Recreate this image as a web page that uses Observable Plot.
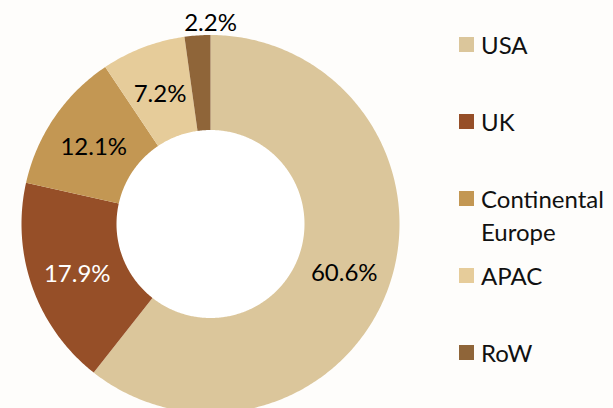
<!DOCTYPE html>
<html>
<head>
<meta charset="utf-8">
<script src="https://cdn.jsdelivr.net/npm/d3@7"></script>
<script src="https://cdn.jsdelivr.net/npm/@observablehq/plot@0.6"></script>
<style>
  html, body { margin: 0; padding: 0; width: 613px; height: 408px; overflow: hidden; background: #fefdfb; }
  #chart { position: absolute; left: 0; top: 0; }
  #legend { position: absolute; left: 459px; top: 7px; font-family: Lato, sans-serif; font-size: 24px; color: #111; line-height: 33px; }
  .row { height: 77px; display: flex; align-items: flex-start; }
  .sw { width: 15px; height: 15px; margin-top: 30px; margin-right: 7px; flex: none; }
  .lb { margin-top: 21px; width: 130px; }
</style>
</head>
<body>
<div id="chart"></div>
<div id="legend"></div>
<script>
const regions = ["USA", "UK", "Continental Europe", "APAC", "RoW"];
const shares = [60.6, 17.9, 12.1, 7.2, 2.2];
const colors = ["#dbc69b", "#964f28", "#c39753", "#e6cc9a", "#8f6539"];
const labelColors = ["#000000", "#ffffff", "#000000", "#000000", "#000000"];

const holeRatio = 94 / 189;
const total = d3.sum(shares);
const polar = (angle, r) => ({x: r * Math.sin(angle), y: r * Math.cos(angle)});

let running = 0;
const slices = regions.map((region, i) => {
  const a0 = running / total * 2 * Math.PI;
  running += shares[i];
  const a1 = running / total * 2 * Math.PI;
  return {region, share: shares[i], a0, a1, mid: (a0 + a1) / 2, labelColor: labelColors[i]};
});

const ringPoints = slices.flatMap(s => {
  const steps = d3.range(0, 1.0001, 1 / Math.max(4, Math.ceil((s.a1 - s.a0) * 90)));
  const angles = steps.map(t => s.a0 + t * (s.a1 - s.a0));
  return [
    ...angles.map(a => ({region: s.region, ...polar(a, 1)})),
    ...angles.slice().reverse().map(a => ({region: s.region, ...polar(a, holeRatio)}))
  ];
});
const holePoints = d3.range(0, 361).map(d => polar(d * Math.PI / 180, holeRatio));

const inside = slices.filter(s => s.share >= 5).map(s => ({
  text: s.share.toFixed(1) + "%", fill: s.labelColor, ...polar(s.mid, (1 + holeRatio) / 2)
}));
const outside = slices.filter(s => s.share < 5).map(s => ({
  text: s.share.toFixed(1) + "%", fill: s.labelColor, ...polar(0, 1.08)
}));

const textOpts = {x: "x", y: "y", text: "text", fill: "fill", fontFamily: "Lato, sans-serif", fontSize: 24, dy: 3};

const chart = Plot.plot({
  width: 613, height: 408,
  margin: 0,
  style: {background: "transparent"},
  x: {domain: [-1, 1], range: [21, 399], axis: null},
  y: {domain: [-1, 1], range: [412.5, 34.5], axis: null},
  color: {domain: regions, range: colors},
  marks: [
    Plot.line(holePoints, {x: "x", y: "y", fill: "white", stroke: "none", curve: "linear"}),
    Plot.line(ringPoints, {x: "x", y: "y", z: "region", fill: "region", stroke: "none", curve: "linear"}),
    Plot.text(inside, textOpts),
    Plot.text(outside, textOpts)
  ]
});
document.getElementById("chart").append(chart);

const legend = document.getElementById("legend");
regions.forEach((r, i) => {
  const row = document.createElement("div");
  row.className = "row";
  const sw = document.createElement("div");
  sw.className = "sw";
  sw.style.background = colors[i];
  const lb = document.createElement("div");
  lb.className = "lb";
  lb.textContent = r;
  row.append(sw, lb);
  legend.append(row);
});
</script>
</body>
</html>
